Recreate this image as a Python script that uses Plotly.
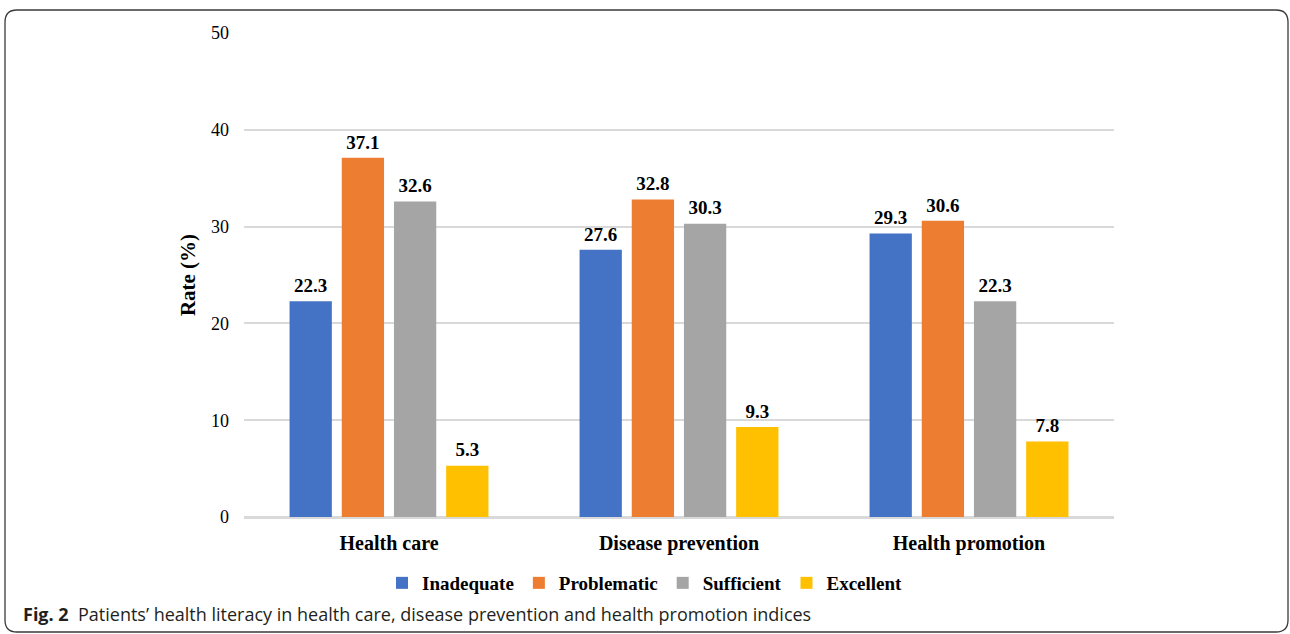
import plotly.graph_objects as go

categories = ["Health care", "Disease prevention", "Health promotion"]
series_names = ["Inadequate", "Problematic", "Sufficient", "Excellent"]
inadequate = [22.3, 27.6, 29.3]
problematic = [37.1, 32.8, 30.6]
sufficient = [32.6, 30.3, 22.3]
excellent = [5.3, 9.3, 7.8]
y_ticks = [0, 10, 20, 30, 40, 50]

colors = ["#4472C4", "#ED7D31", "#A5A5A5", "#FFC000"]
series_values = [inadequate, problematic, sufficient, excellent]

W, H = 1290, 634
L, R, T, B = 244, 1114, 33, 517

def px2x(px):
    return (px - L) / (R - L)

def px2y(py):
    return (B - py) / (B - T)

serif = "Liberation Serif"

fig = go.Figure()
for name, vals, c in zip(series_names, series_values, colors):
    fig.add_trace(go.Bar(
        x=categories, y=vals, name=name,
        marker=dict(color=c, line=dict(width=0)),
        text=[f"{v:.1f}" for v in vals],
        texttemplate="<span style='font-size:19px'><b>%{text}</b></span><br> ",
        textposition="outside",
        constraintext="none",
        textfont=dict(family=serif, size=4, color="#000000"),
        cliponaxis=False,
    ))

# rounded frame
x0, x1, y0, y1 = 5, 1288, 10, 632
r = 12
path = (
    f"M {px2x(x0 + r)} {px2y(y0)} "
    f"L {px2x(x1 - r)} {px2y(y0)} "
    f"Q {px2x(x1)} {px2y(y0)} {px2x(x1)} {px2y(y0 + r)} "
    f"L {px2x(x1)} {px2y(y1 - r)} "
    f"Q {px2x(x1)} {px2y(y1)} {px2x(x1 - r)} {px2y(y1)} "
    f"L {px2x(x0 + r)} {px2y(y1)} "
    f"Q {px2x(x0)} {px2y(y1)} {px2x(x0)} {px2y(y1 - r)} "
    f"L {px2x(x0)} {px2y(y0 + r)} "
    f"Q {px2x(x0)} {px2y(y0)} {px2x(x0 + r)} {px2y(y0)} Z"
)
fig.add_shape(type="path", path=path, xref="paper", yref="paper",
              line=dict(color="#3a3a3a", width=1.3), layer="below")

fig.add_annotation(
    xref="paper", yref="paper", x=px2x(21), y=px2y(614),
    xanchor="left", yanchor="middle", showarrow=False,
    text="<b>Fig. 2</b>  Patients’ health literacy in health care, disease prevention and health promotion indices",
    font=dict(family="Open Sans", size=18, color="#231f20"),
)

fig.update_layout(
    width=W, height=H,
    margin=dict(l=L, r=W - R, t=T, b=H - B),
    paper_bgcolor="white", plot_bgcolor="white",
    barmode="group", bargap=0.28, bargroupgap=0.19,
    showlegend=True,
    legend=dict(
        orientation="h", x=px2x(645), xanchor="center",
        y=px2y(583), yanchor="middle",
        font=dict(family=serif, size=19, color="#000000", weight="bold"),
        itemwidth=30, tracegroupgap=0,
    ),
    font=dict(family=serif, color="#000000"),
    xaxis=dict(
        showgrid=False, showline=True, linecolor="#d9d9d9", linewidth=1.5,
        tickfont=dict(family=serif, size=20, weight="bold"),
        ticks="", ticklabelstandoff=7,
    ),
    yaxis=dict(
        range=[0, 50], tickvals=y_ticks, showgrid=True, gridcolor="#d9d9d9",
        gridwidth=1.5, zeroline=True, zerolinecolor="#d9d9d9", zerolinewidth=1.5,
        showline=False, ticks="",
        tickfont=dict(family=serif, size=18),
        ticklabelstandoff=14,
        title=dict(text="<b>Rate (%)</b>", font=dict(family=serif, size=21), standoff=9),
    ),
)

fig.write_html("out.html", config={"displayModeBar": False},
               post_script="document.body.style.margin='0';")
